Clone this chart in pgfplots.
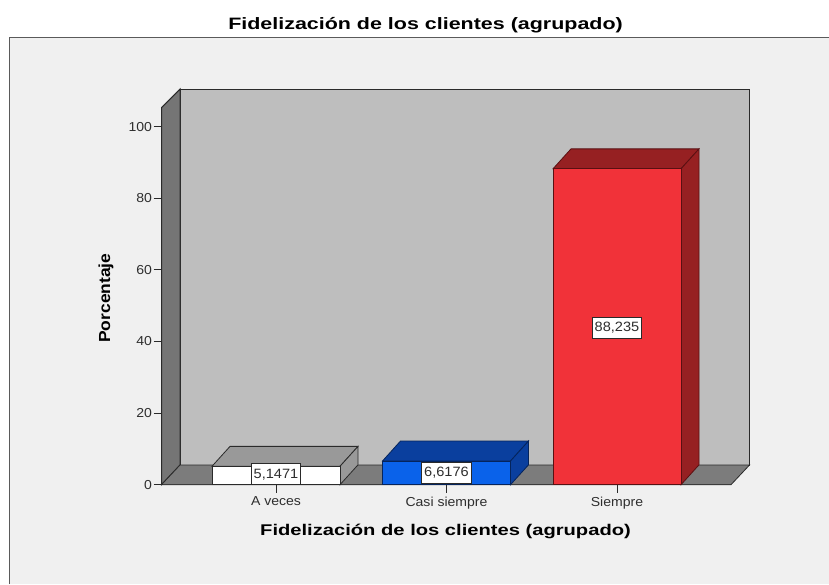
\documentclass[border=0pt]{standalone}
\usepackage{fontspec}
\setmainfont{Liberation Sans}
\newfontfamily\tickf[FakeStretch=1.08]{Liberation Sans}
\newfontfamily\titlef[FakeStretch=1.3]{Liberation Sans}
\newfontfamily\ylabf[FakeStretch=1.09]{Liberation Sans}
\usepackage{pgfplots}
\pgfplotsset{compat=1.18}
\definecolor{pagebg}{HTML}{F0F0F0}
\definecolor{wallc}{HTML}{BEBEBE}
\definecolor{sidec}{HTML}{757575}
\definecolor{floorc}{HTML}{7C7C7C}
\definecolor{linec}{HTML}{2A2A2A}
\definecolor{framec}{HTML}{5A5A5A}
\definecolor{greyside}{HTML}{999999}
\definecolor{bluefront}{HTML}{0A62EA}
\definecolor{bluetop}{HTML}{0A3F9E}
\definecolor{bluedark}{HTML}{05245C}
\definecolor{redfront}{HTML}{F13239}
\definecolor{redtop}{HTML}{962022}
\definecolor{reddark}{HTML}{5A1012}
\definecolor{txt}{HTML}{2E2E2E}
\begin{document}
\begin{tikzpicture}
\useasboundingbox (0,0) rectangle (829pt,584pt);
\fill[white] (0,0) rectangle (829pt,584pt);
\fill[pagebg] (9.5pt,0) rectangle (829pt,546.5pt);
\draw[framec,line width=1pt] (9.5pt,0) -- (9.5pt,546.5pt) -- (829pt,546.5pt);
\begin{axis}[
  at={(161.5pt,99.3pt)}, anchor=south west,
  scale only axis, width=569.5pt, height=377pt,
  xmin=-0.6716, xmax=2.6686, ymin=0, ymax=105.3,
  axis x line*=bottom, axis y line*=left,
  axis line style={linec,line width=1pt,-},
  clip=false, no markers,
  xtick={0,1,2}, xticklabels={A veces,Casi siempre,Siempre},
  ytick={0,20,40,60,80,100},
  major tick length=8pt,
  tick style={linec,line width=1pt},
  tick align=outside,
  ticklabel style={font=\tickf\fontsize{13}{15}\selectfont,text=txt},
  xticklabel style={yshift=-0.5pt},
  yticklabel style={xshift=2pt},
  /pgf/number format/assume math mode=true,
  title={Fidelización de los clientes (agrupado)},
  title style={at={(axis description cs:0.4636,1.2017)},anchor=center,font=\titlef\fontsize{16.5}{18}\bfseries\selectfont,text=black},
  xlabel={Fidelización de los clientes (agrupado)},
  every axis x label/.style={at={(axis description cs:0.4987,-0.1227)},anchor=center,font=\titlef\fontsize{15.5}{17}\bfseries\selectfont,text=black},
  ylabel={Porcentaje},
  every axis y label/.style={at={(axis description cs:-0.0975,0.495)},rotate=90,anchor=center,font=\ylabf\fontsize{16}{18}\bfseries\selectfont,text=black},
]
% walls and floor
\addplot[fill=wallc,draw=linec,line width=1pt] coordinates {(-0.5631,5.5) (2.7771,5.5) (2.7771,110.5) (-0.5631,110.5)} --cycle;
\addplot[fill=sidec,draw=linec,line width=1pt] coordinates {(-0.6716,0) (-0.5631,5.5) (-0.5631,110.5) (-0.6716,105.3)} --cycle;
\addplot[fill=floorc,draw=linec,line width=0.8pt] coordinates {(-0.6716,0) (2.6686,0) (2.7771,5.5) (-0.5631,5.5)} --cycle;
% A veces
\addplot[fill=greyside,draw=linec,line width=0.8pt] coordinates {(-0.3754,5.1471) (0.3754,5.1471) (0.4810,10.7) (-0.2698,10.7)} --cycle;
\addplot[fill=greyside,draw=linec,line width=0.8pt] coordinates {(0.3754,0) (0.4810,5.55) (0.4810,10.7) (0.3754,5.1471)} --cycle;
\addplot[ybar,bar width=0.7508,bar shift=0pt,fill=white,draw=linec,line width=0.8pt] coordinates {(0,5.1471)};
% Casi siempre
\addplot[fill=bluetop,draw=bluedark,line width=0.8pt] coordinates {(0.6246,6.6176) (1.3754,6.6176) (1.4810,12.2) (0.7302,12.2)} --cycle;
\addplot[fill=bluetop,draw=bluedark,line width=0.8pt] coordinates {(1.3754,0) (1.4810,5.55) (1.4810,12.2) (1.3754,6.6176)} --cycle;
\addplot[ybar,bar width=0.7508,bar shift=0pt,fill=bluefront,draw=bluedark,line width=0.8pt] coordinates {(1,6.6176)};
% Siempre
\addplot[fill=redtop,draw=reddark,line width=0.8pt] coordinates {(1.6246,88.235) (2.3754,88.235) (2.4810,93.8) (1.7302,93.8)} --cycle;
\addplot[fill=redtop,draw=reddark,line width=0.8pt] coordinates {(2.3754,0) (2.4810,5.55) (2.4810,93.8) (2.3754,88.235)} --cycle;
\addplot[ybar,bar width=0.7508,bar shift=0pt,fill=redfront,draw=reddark,line width=0.8pt] coordinates {(2,88.235)};
% value labels
\tikzset{vl/.style={fill=white,draw=linec,line width=1pt,inner xsep=2.5pt,inner ysep=5pt,font=\tickf\fontsize{13.5}{15}\selectfont,text=txt}}
\node[vl] at (axis cs:0,2.9) {5,1471};
\node[vl] at (axis cs:1,3.31) {6,6176};
\node[vl] at (axis cs:2,43.8) {88,235};
\end{axis}
\end{tikzpicture}
\end{document}
